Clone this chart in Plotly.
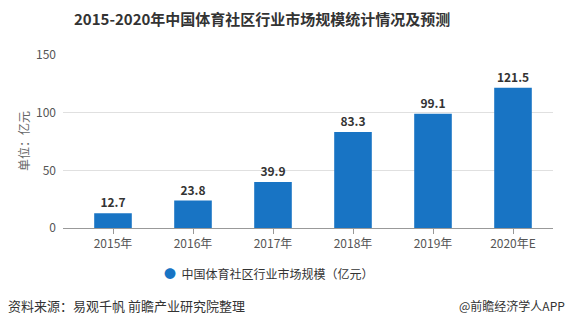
import plotly.graph_objects as go

categories = ["2015年", "2016年", "2017年", "2018年", "2019年", "2020年E"]
values = [12.7, 23.8, 39.9, 83.3, 99.1, 121.5]
series_name = "中国体育社区行业市场规模（亿元）"
y_ticks = [0, 50, 100, 150]

W, H = 568, 326
FONT = "Noto Sans CJK SC"

fig = go.Figure()
fig.add_trace(go.Bar(
    x=categories, y=values, name=series_name,
    marker=dict(color="#1874c4", line=dict(width=0)),
    width=0.47,
    text=[f"{v:.1f}" for v in values], textposition="outside",
    textfont=dict(family=FONT, size=12, color="#333333", weight="bold"),
    cliponaxis=False, showlegend=False,
))

x0, x1 = 63, 553
y0, y1 = 55, 228
fig.update_layout(
    width=W, height=H,
    margin=dict(l=x0, r=W - x1, t=y0, b=H - y1),
    paper_bgcolor="white", plot_bgcolor="white",
    font=dict(family=FONT, size=12, color="#555555"),
    bargap=0.53,
    xaxis=dict(
        type="category", range=[-0.625, 5.5],
        showline=True, linecolor="#999999", linewidth=1,
        ticks="outside", ticklen=5, tickcolor="#999999",
        tickfont=dict(size=12, color="#555555"),
        showgrid=False, fixedrange=True,
    ),
    yaxis=dict(
        range=[0, 150], tickvals=y_ticks,
        showgrid=True, gridcolor="#e0e0e0", gridwidth=1,
        zeroline=False, showline=False, ticks="",
        ticklabelstandoff=6,
        tickfont=dict(size=12, color="#555555"),
    ),
    showlegend=False,
)

fig.add_annotation(
    text="<b>2015-2020年中国体育社区行业市场规模统计情况及预测</b>",
    xref="paper", yref="paper", x=(262 - x0) / (x1 - x0), y=1 + (y0 - 19) / (y1 - y0),
    xanchor="center", yanchor="middle", showarrow=False,
    font=dict(family=FONT, size=15, color="#333333"),
)
fig.add_annotation(
    text="单位：亿元", textangle=-90,
    xref="paper", yref="paper", x=(23 - x0) / (x1 - x0), y=(y1 - 141) / (y1 - y0),
    xanchor="center", yanchor="middle", showarrow=False,
    font=dict(family=FONT, size=12, color="#666666"),
)
# legend
fig.add_annotation(
    text="<span style='color:#1874c4'>●</span>  " + series_name,
    xref="paper", yref="paper", x=(162 - x0) / (x1 - x0), y=(y1 - 273) / (y1 - y0),
    xanchor="left", yanchor="middle", showarrow=False,
    font=dict(family=FONT, size=12, color="#333333"),
)
fig.add_annotation(
    text="资料来源：易观千帆 前瞻产业研究院整理",
    xref="paper", yref="paper", x=(6 - x0) / (x1 - x0), y=(y1 - 305) / (y1 - y0),
    xanchor="left", yanchor="middle", showarrow=False,
    font=dict(family=FONT, size=13, color="#333333"),
)
fig.add_annotation(
    text="@前瞻经济学人APP",
    xref="paper", yref="paper", x=(567 - x0) / (x1 - x0), y=(y1 - 305) / (y1 - y0),
    xanchor="right", yanchor="middle", showarrow=False,
    font=dict(family=FONT, size=12, color="#333333"),
)

fig.write_html("out.html")
